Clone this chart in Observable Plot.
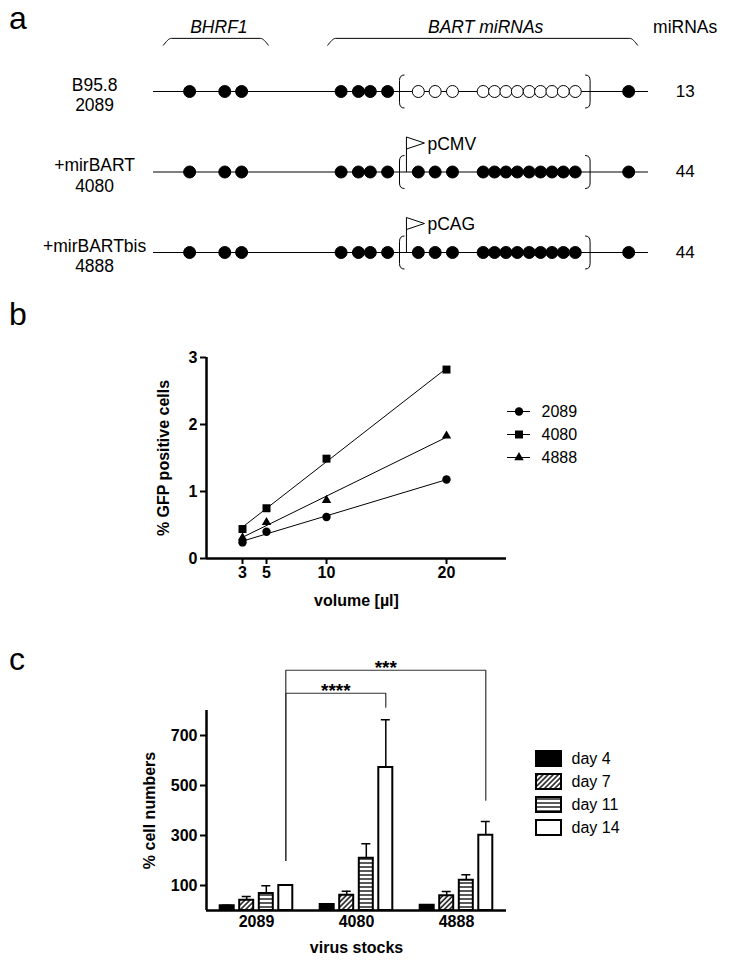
<!DOCTYPE html>
<html><head><meta charset="utf-8">
<script src="https://cdn.jsdelivr.net/npm/d3@7"></script>
<script src="https://cdn.jsdelivr.net/npm/@observablehq/plot@0.6"></script>
<style>
body{margin:0;background:#fff;}
#wrap{position:relative;width:731px;height:965px;font-family:"Liberation Sans",Arial,Helvetica,sans-serif;color:#000;overflow:hidden;}
.abs{position:absolute;left:0;}
.letter{position:absolute;font-size:32px;line-height:36px;}
</style></head><body><div id="wrap"></div>
<script>
// ---------- Panel a : constructs ----------
const constructIds = ["2089", "4080", "4888"];
const constructNames = ["B95.8", "+mirBART", "+mirBARTbis"];
const mirnaCounts = [13, 44, 44];
const promoterNames = [null, "pCMV", "pCAG"];
const clusterFilled = [false, true, true];
// positions along the genome schematic (0 = left end, 100 = right end)
const bhrf1Pos = [7.3, 14.4, 17.8];
const bartPos = [37.9, 41.4, 43.8, 47.3];
const clusterPos = [53.5, 56.9, 60.4, 66.6, 68.9, 71.2, 73.5, 75.9, 78.2, 80.5, 82.8, 85.2];
const tailPos = [96.0];
const clusterBounds = [49.7, 88.2];
const promoterPos = 51.1;
const regionNames = ["BHRF1", "BART miRNAs"];
const regionStart = [2.0, 35.2];
const regionEnd = [23.2, 97.8];

// ---------- Panel b : GFP ----------
const volumes = [3, 5, 10, 20];
const seriesNames = ["2089", "4080", "4888"];
const gfp2089 = [0.24, 0.40, 0.62, 1.18];
const gfp4080 = [0.44, 0.75, 1.49, 2.82];
const gfp4888 = [0.31, 0.54, 0.87, 1.83];
const gfpTicksY = [0, 1, 2, 3];

// ---------- Panel c : cell numbers ----------
const stocks = ["2089", "4080", "4888"];
const days = ["day 4", "day 7", "day 11", "day 14"];
const cell2089 = [19, 41, 68, 100];
const cell4080 = [24, 61, 209, 572];
const cell4888 = [21, 59, 121, 301];
const sd2089 = [2, 15, 31, 0];
const sd4080 = [0, 16, 58, 191];
const sd4888 = [0, 17, 22, 55];
const cellTicksY = [100, 300, 500, 700];
const compFrom = ["2089", "2089"];
const compTo = ["4080", "4888"];
const compLabel = ["****", "***"];
const compLevel = [869, 961];
const compFromEnd = [200, 200];
const compToEnd = [813, 441];

const FONT = '"Liberation Sans", Arial, Helvetica, sans-serif';
const wrap = document.getElementById("wrap");
wrap.insertAdjacentHTML("beforeend", `<svg width="0" height="0" style="position:absolute"><defs>
<pattern id="hatchDiag" width="3.6" height="3.6" patternUnits="userSpaceOnUse" patternTransform="rotate(45)"><rect width="3.6" height="3.6" fill="#fff"/><line x1="1" y1="0" x2="1" y2="3.6" stroke="#000" stroke-width="1.4"/></pattern>
<pattern id="hatchHoriz" width="4" height="4" patternUnits="userSpaceOnUse"><rect width="4" height="4" fill="#fff"/><line x1="0" y1="2" x2="4" y2="2" stroke="#000" stroke-width="1.3"/></pattern>
</defs></svg>`);
function place(node, top) {
  const d = document.createElement("div");
  d.className = "abs"; d.style.top = top + "px";
  d.appendChild(node); wrap.appendChild(d);
}
function letter(ch, left, top) {
  const d = document.createElement("div");
  d.className = "letter"; d.textContent = ch;
  d.style.left = left + "px"; d.style.top = top + "px";
  wrap.appendChild(d);
}

// ===== Panel a =====
const rows = constructIds.map((id, i) => ({i, id, name: constructNames[i], count: mirnaCounts[i], promoter: promoterNames[i], filled: clusterFilled[i]}));
const dotsA = rows.flatMap(r => [
  ...bhrf1Pos.map(p => ({row: r.i, pos: p, filled: true})),
  ...bartPos.map(p => ({row: r.i, pos: p, filled: true})),
  ...clusterPos.map(p => ({row: r.i, pos: p, filled: r.filled})),
  ...tailPos.map(p => ({row: r.i, pos: p, filled: true}))
]);
const braceY = -0.66, braceHook = 0.085, headerY = -0.8;
const bracePts = regionNames.flatMap((n, k) => [
  {n, x: regionStart[k], y: braceY + braceHook},
  {n, x: regionStart[k] + 1.6, y: braceY},
  {n, x: regionEnd[k] - 1.6, y: braceY},
  {n, x: regionEnd[k], y: braceY + braceHook}
]);
const openBracket = {draw(c) { c.moveTo(5, -16.5); c.quadraticCurveTo(0, -16.5, 0, -11); c.lineTo(0, 11); c.quadraticCurveTo(0, 16.5, 5, 16.5); }};
const closeBracket = {draw(c) { c.moveTo(-5, -16.5); c.quadraticCurveTo(0, -16.5, 0, -11); c.lineTo(0, 11); c.quadraticCurveTo(0, 16.5, -5, 16.5); }};
const flagSymbol = {draw(c) { c.moveTo(0, 0); c.lineTo(0, -35); c.lineTo(18, -29); c.lineTo(0, -23); }};
const countCol = 107.4, labelCol = -11.9;
const promRows = rows.filter(r => r.promoter);

const plotA = Plot.plot({
  width: 731, height: 290, margin: 0,
  style: {fontFamily: FONT, fontSize: "17.5px", background: "transparent", overflow: "visible"},
  x: {domain: [0, 100], range: [153, 648], axis: null},
  y: {domain: [0, 2], range: [91, 252], axis: null},
  marks: [
    Plot.ruleY(rows, {y: "i", x1: 0, x2: 100, stroke: "black", strokeWidth: 1}),
    Plot.line(bracePts, {x: "x", y: "y", z: "n", curve: "monotone-x", stroke: "black", strokeWidth: 1}),
    Plot.text(regionNames, {x: (d, k) => (regionStart[k] + regionEnd[k]) / 2, y: headerY, dx: 3, text: d => d, fontStyle: "italic", fontSize: 17.5}),
    Plot.text(["miRNAs"], {x: countCol, y: headerY, text: d => d, fontSize: 17.5}),
    Plot.dot(rows, {x: clusterBounds[0], y: "i", symbol: openBracket, stroke: "black", fill: "none", strokeWidth: 1}),
    Plot.dot(rows, {x: clusterBounds[1], y: "i", symbol: closeBracket, stroke: "black", fill: "none", strokeWidth: 1}),
    Plot.dot(promRows, {x: promoterPos, y: "i", symbol: flagSymbol, stroke: "black", fill: "none", strokeWidth: 1}),
    Plot.text(promRows, {x: promoterPos, y: "i", text: "promoter", dx: 21, dy: -28, textAnchor: "start", fontSize: 17.5}),
    Plot.dot(dotsA, {x: "pos", y: "row", r: 6, fill: d => d.filled ? "black" : "white", stroke: "black", strokeWidth: 1}),
    Plot.text(rows, {x: labelCol, y: "i", text: d => d.name + "\n" + d.id, lineHeight: 1.15, dy: 3, fontSize: 17.5}),
    Plot.text(rows, {x: countCol, y: "i", text: "count", fontSize: 17})
  ]
});
place(plotA, 0);

// ===== Panel b =====
const gfpSeries = [gfp2089, gfp4080, gfp4888];
const gfpRows = seriesNames.flatMap((s, i) => volumes.map((v, j) => ({series: s, volume: v, pct: gfpSeries[i][j]})));
const seriesSymbol = {"2089": "circle", "4080": "square", "4888": "triangle"};
const seriesR = {"2089": 4.2, "4080": 4.5, "4888": 3.5};

const plotB = Plot.plot({
  width: 731, height: 330,
  marginTop: 67, marginBottom: 62, marginLeft: 206, marginRight: 225,
  style: {fontFamily: FONT, fontSize: "16px", fontWeight: "bold", background: "transparent", overflow: "visible"},
  x: {domain: [0, 25]},
  y: {domain: [0, 3]},
  marks: [
    Plot.axisY({ticks: gfpTicksY, tickFormat: d3.format("d"), tickSize: 6, tickPadding: 3, strokeWidth: 2, label: null, fontSize: 16}),
    Plot.axisX({ticks: volumes, tickFormat: d3.format("d"), tickSize: 6, tickPadding: 2, strokeWidth: 2, label: null, fontSize: 16}),
    Plot.linearRegressionY(gfpRows, {x: "volume", y: "pct", z: "series", ci: 0, stroke: "black", strokeWidth: 1}),
    ...seriesNames.map(s => Plot.dot(gfpRows.filter(d => d.series === s), {x: "volume", y: "pct", symbol: seriesSymbol[s], r: seriesR[s], fill: "black"})),
    Plot.ruleX([0], {strokeWidth: 2.5}),
    Plot.ruleY([0], {strokeWidth: 2.5}),
    Plot.text(["volume [µl]"], {frameAnchor: "bottom", dy: 42, lineAnchor: "middle", text: d => d, fontSize: 16}),
    Plot.text(["% GFP positive cells"], {frameAnchor: "left", dx: -43, rotate: -90, textAnchor: "middle", lineAnchor: "middle", text: d => d, fontSize: 16})
  ]
});
place(plotB, 290);

const legendB = Plot.plot({
  width: 731, height: 330, margin: 0,
  style: {fontFamily: FONT, fontSize: "16px", background: "transparent", overflow: "visible"},
  x: {domain: [0, 1], range: [507, 530], axis: null},
  y: {type: "point", domain: seriesNames, range: [120, 167], padding: 0, axis: null},
  marks: [
    Plot.ruleY(seriesNames, {y: d => d, x1: 0, x2: 1, stroke: "black", strokeWidth: 1}),
    ...seriesNames.map(s => Plot.dot([s], {x: 0.5, y: d => d, symbol: seriesSymbol[s], r: seriesR[s], fill: "black"})),
    Plot.text(seriesNames, {x: 1, y: d => d, dx: 11, text: d => d, textAnchor: "start", fontSize: 16})
  ]
});
place(legendB, 290);

// ===== Panel c =====
const cellSeries = [cell2089, cell4080, cell4888];
const sdSeries = [sd2089, sd4080, sd4888];
const cellRows = stocks.flatMap((s, i) => days.map((d, k) => ({stock: s, day: d, k, value: cellSeries[i][k], sd: sdSeries[i][k]})));
const dayFill = ["black", "url(#hatchDiag)", "url(#hatchHoriz)", "white"];
const dayOffset = [-29.3, -9.8, 9.8, 29.3];
const comps = compFrom.map((f, i) => ({id: i, from: f, to: compTo[i], label: compLabel[i], level: compLevel[i], fromEnd: compFromEnd[i], toEnd: compToEnd[i]}));
const compPts = comps.flatMap(c => [
  {id: c.id, stock: c.from, v: c.fromEnd}, {id: c.id, stock: c.from, v: c.level},
  {id: c.id, stock: c.to, v: c.level}, {id: c.id, stock: c.to, v: c.toEnd}
]);
const errRows = cellRows.filter(d => d.sd > 0);

const plotC = Plot.plot({
  width: 731, height: 335,
  marginTop: 81, marginBottom: 54, marginLeft: 206, marginRight: 225,
  style: {fontFamily: FONT, fontSize: "16px", fontWeight: "bold", background: "transparent", overflow: "visible"},
  x: {domain: stocks, padding: 0},
  y: {domain: [0, 800]},
  marks: [
    Plot.axisY({ticks: cellTicksY, tickFormat: d3.format("d"), tickSize: 6, tickPadding: 3, strokeWidth: 2, label: null, fontSize: 16}),
    Plot.axisX({tickSize: 0, tickPadding: 5, label: null, fontSize: 16}),
    ...days.map((d, k) => Plot.ruleX(errRows.filter(r => r.k === k), {x: "stock", y1: "value", y2: r => r.value + r.sd, dx: dayOffset[k], stroke: "black", strokeWidth: 1.5})),
    ...days.map((d, k) => Plot.tickY(errRows.filter(r => r.k === k), {x: "stock", y: r => r.value + r.sd, dx: dayOffset[k], insetLeft: 45.5, insetRight: 45.5, stroke: "black", strokeWidth: 1.5})),
    ...days.map((d, k) => Plot.barY(cellRows.filter(r => r.k === k), {x: "stock", y: "value", dx: dayOffset[k], insetLeft: 43, insetRight: 43, fill: dayFill[k], stroke: "black", strokeWidth: 2})),
    Plot.line(compPts, {x: "stock", y: "v", z: "id", dx: dayOffset[3], stroke: "#333", strokeWidth: 1.2}),
    Plot.text(comps.filter(c => c.to === "4080"), {x: c => c.from, y: "level", dx: dayOffset[3] + 50, dy: -2, text: "label", fontSize: 19}),
    Plot.text(comps.filter(c => c.to === "4888"), {x: c => "4080", y: "level", dx: dayOffset[3], dy: -2, text: "label", fontSize: 19}),
    Plot.ruleX([stocks[0]], {dx: -50, strokeWidth: 2.5}),
    Plot.ruleY([0], {strokeWidth: 2.5}),
    Plot.text(["virus stocks"], {frameAnchor: "bottom", dy: 37, lineAnchor: "middle", text: d => d, fontSize: 16}),
    Plot.text(["% cell numbers"], {frameAnchor: "left", dx: -57, rotate: -90, textAnchor: "middle", lineAnchor: "middle", text: d => d, fontSize: 16})
  ]
});
place(plotC, 629);

const legendC = Plot.plot({
  width: 731, height: 335, margin: 0,
  style: {fontFamily: FONT, fontSize: "16px", background: "transparent", overflow: "visible"},
  x: {domain: [0, 1], range: [536, 561], axis: null},
  y: {type: "band", domain: days, range: [122, 206.6], paddingInner: 0.353, paddingOuter: 0, axis: null},
  marks: [
    ...days.map((d, k) => Plot.barX([d], {y: v => v, x1: 0, x2: 1, fill: dayFill[k], stroke: "black", strokeWidth: 2})),
    Plot.text(days, {x: 1, y: d => d, dx: 10, text: d => d, textAnchor: "start", fontSize: 16})
  ]
});
place(legendC, 629);

letter("a", 9, 0);
letter("b", 9, 296);
letter("c", 9, 641);
</script></body></html>
